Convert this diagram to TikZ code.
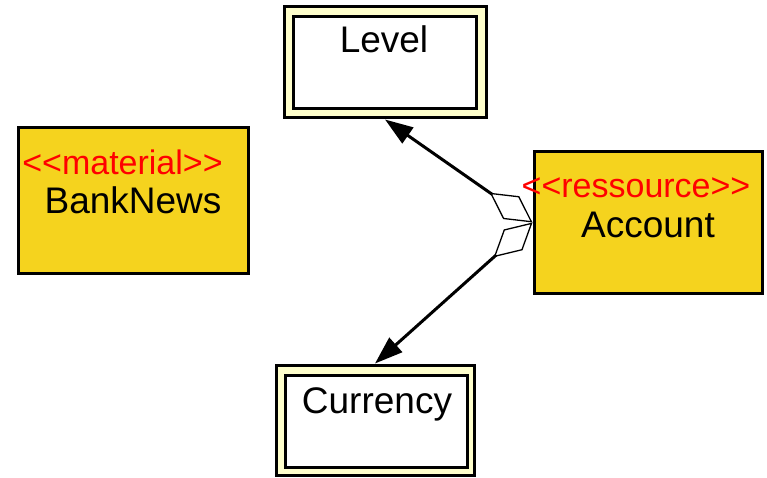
\documentclass[tikz,border=0pt]{standalone}
\usepackage{fontspec}
\setmainfont{Liberation Sans}
\usetikzlibrary{arrows.meta}
\definecolor{gold}{RGB}{245,211,30}
\definecolor{paleyellow}{RGB}{255,255,204}
\begin{document}
\begin{tikzpicture}[x=1pt,y=-1pt,
  outerbox/.style={draw=black, line width=3pt, fill=paleyellow, inner sep=0pt},
  innerbox/.style={draw=black, line width=3pt, fill=white, inner sep=0pt},
  classbox/.style={draw=black, line width=3pt, fill=gold, inner sep=0pt},
  nametext/.style={anchor=base, inner sep=0pt, font=\fontsize{37}{44}\selectfont},
  stereo/.style={anchor=base, inner sep=0pt, text=red, font=\fontsize{34}{40}\selectfont},
  assoc/.style={line width=3pt,
    {Diamond[open, length=52pt, width=28pt, line width=1.3pt]}-{Triangle[length=28pt, width=19pt]}}
]
\useasboundingbox (0,0) rectangle (767,478);
% Level
\node[outerbox, minimum width=202pt, minimum height=111pt] (lvl) at (385,62.5) {};
\node[innerbox, minimum width=183pt, minimum height=92pt] (lvlin) at (384.5,63) {};
\node[nametext] (lvltxt) at (384,53) {Level};
% Currency
\node[outerbox, minimum width=198pt, minimum height=110pt] (cur) at (375,420) {};
\node[innerbox, minimum width=182pt, minimum height=92pt] (curin) at (376,421) {};
\node[nametext] (curtxt) at (377,413) {Currency};
% BankNews
\node[classbox, minimum width=230pt, minimum height=145pt] (bank) at (133,200.5) {};
\node[stereo] (bankst) at (122.5,175) {<{}<material>{}>};
\node[nametext] (banktxt) at (133,213) {BankNews};
% Account
\node[classbox, minimum width=228pt, minimum height=141pt] (acc) at (648,222.5) {};
\node[stereo] (accst) at (636,198) {<{}<ressource>{}>};
\node[nametext] (acctxt) at (648,237) {Account};
% connectors
\draw[assoc] (acc.west) -- (lvl.south);
\draw[assoc] (acc.west) -- (cur.north);
\end{tikzpicture}
\end{document}
